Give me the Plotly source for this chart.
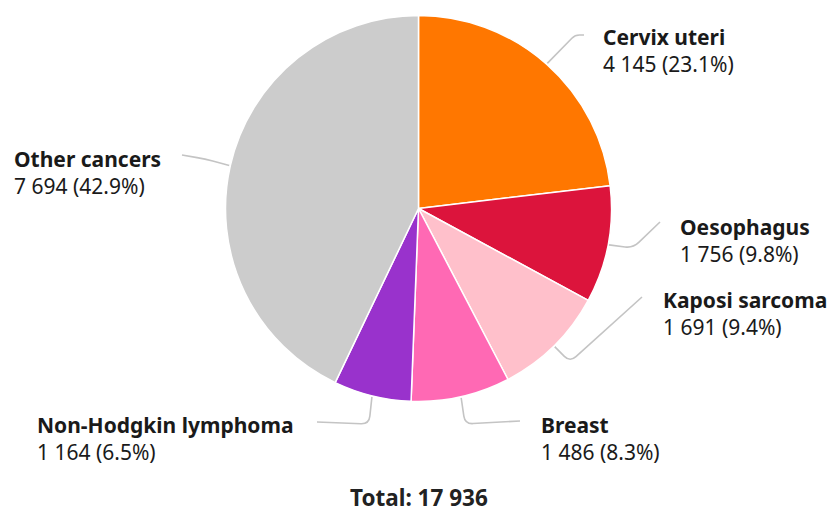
import math
import plotly.graph_objects as go

# ---- data ----
categories = ["Cervix uteri", "Oesophagus", "Kaposi sarcoma", "Breast",
              "Non-Hodgkin lymphoma", "Other cancers"]
values = [4145, 1756, 1691, 1486, 1164, 7694]
colors = ["#FF7700", "#DC143C", "#FFC0CB", "#FF69B4", "#9932CC", "#CCCCCC"]

# ---- layout geometry (pixels) ----
W, H = 832, 513
CX, CY, R = 418.5, 208.5, 193

# label anchor (left x, block centre y) and leader-line corner / end, per slice
label_pos = [(601, 51), (678, 240), (661, 313), (539, 438), (35, 438), (12, 172)]
corners = [(575, 35), (633, 248), (570, 362), (465, 424), (369, 424), (205, 159)]
ends = [(584, 35), (660, 222), (642, 297), (520, 421), (317, 422), (182, 155)]

total = sum(values)


def fmt(v):
    return f"{v:,}".replace(",", " ")


def px(x, y):
    return x / W, 1 - y / H


fig = go.Figure(go.Pie(
    labels=categories, values=values, sort=False, direction="clockwise",
    rotation=0, textinfo="none", hoverinfo="label+value+percent",
    marker=dict(colors=colors, line=dict(color="white", width=1.5)),
    domain=dict(x=[(CX - R) / W, (CX + R) / W], y=[1 - (CY + R) / H, 1 - (CY - R) / H]),
    showlegend=False,
))

shapes = []
annotations = []
cum = 0
for i, (name, v) in enumerate(zip(categories, values)):
    mid = (cum + v / 2) / total * 2 * math.pi
    cum += v
    sx, sy = CX + (R + 1) * math.sin(mid), CY - (R + 1) * math.cos(mid)
    kx, ky = corners[i]
    ex, ey = ends[i]
    # rounded corner
    d1 = math.hypot(kx - sx, ky - sy)
    d2 = math.hypot(ex - kx, ey - ky)
    rr = min(8, d1 * 0.5, d2 * 0.5)
    ax_, ay_ = kx - (kx - sx) / d1 * rr, ky - (ky - sy) / d1 * rr
    bx_, by_ = kx + (ex - kx) / d2 * rr, ky + (ey - ky) / d2 * rr
    pts = [(sx, sy), (ax_, ay_), (kx, ky), (bx_, by_), (ex, ey)]
    p = [px(*q) for q in pts]
    path = (f"M {p[0][0]},{p[0][1]} L {p[1][0]},{p[1][1]} "
            f"Q {p[2][0]},{p[2][1]} {p[3][0]},{p[3][1]} L {p[4][0]},{p[4][1]}")
    shapes.append(dict(type="path", xref="paper", yref="paper", path=path,
                       line=dict(color="#C4C4C4", width=1.6), layer="below"))
    lx, ly = label_pos[i]
    pct = v / total * 100
    annotations.append(dict(
        x=lx / W, y=1 - ly / H, xref="paper", yref="paper",
        xanchor="left", yanchor="middle", align="left", showarrow=False,
        text=f"<b>{name}</b><br>{fmt(v)} ({pct:.1f}%)",
        font=dict(family="Noto Sans", size=21, color="#1a1a1a"),
    ))

annotations.append(dict(
    x=419 / W, y=1 - 497.5 / H, xref="paper", yref="paper",
    xanchor="center", yanchor="middle", showarrow=False, borderpad=0,
    text=f"<b>Total: {fmt(total)}</b>",
    font=dict(family="Noto Sans", size=22.5, color="#222222"),
))

fig.update_layout(
    width=W, height=H, margin=dict(l=0, r=0, t=0, b=0),
    paper_bgcolor="white", plot_bgcolor="white",
    shapes=shapes, annotations=annotations,
    font=dict(family="Noto Sans"),
)

fig.write_html(
    "out.html",
    config={"displayModeBar": False},
    post_script="document.body.style.margin='0';document.body.style.overflow='hidden';",
)
